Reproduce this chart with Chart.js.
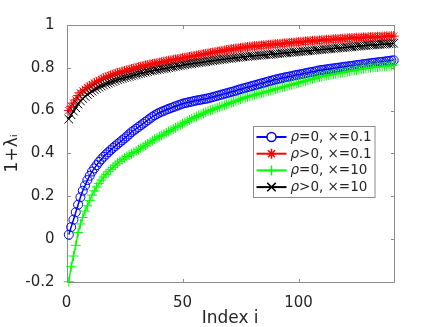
<!DOCTYPE html>
<html>
<head>
<meta charset="utf-8">
<script src="https://cdn.jsdelivr.net/npm/chart.js@4/dist/chart.umd.min.js"></script>
<style>
  html, body { margin: 0; padding: 0; background: #fff; }
  #wrap { width: 436px; height: 327px; }
</style>
</head>
<body>
<div id="wrap"><canvas id="chart" width="436" height="327"></canvas></div>
<script>
// values, index i = 1..141
const blue = [
  0.020, 0.055, 0.090, 0.125, 0.160, 0.195, 0.225, 0.250, 0.275, 0.295,
  0.315, 0.330, 0.345, 0.360, 0.372, 0.384, 0.395, 0.405, 0.415, 0.425,
  0.434, 0.443, 0.452, 0.461, 0.470, 0.479, 0.489, 0.499, 0.507, 0.515,
  0.523, 0.531, 0.539, 0.547, 0.555, 0.563, 0.571, 0.578, 0.584, 0.590,
  0.595, 0.599, 0.604, 0.608, 0.612, 0.616, 0.620, 0.624, 0.628, 0.632,
  0.635, 0.637, 0.640, 0.642, 0.645, 0.647, 0.649, 0.651, 0.653, 0.655,
  0.657, 0.660, 0.663, 0.666, 0.669, 0.672, 0.675, 0.678, 0.681, 0.684,
  0.687, 0.690, 0.693, 0.697, 0.700, 0.703, 0.706, 0.709, 0.712, 0.715,
  0.718, 0.721, 0.724, 0.727, 0.730, 0.733, 0.736, 0.739, 0.742, 0.745,
  0.747, 0.750, 0.752, 0.755, 0.757, 0.759, 0.761, 0.764, 0.766, 0.768,
  0.770, 0.772, 0.775, 0.777, 0.779, 0.781, 0.783, 0.786, 0.788, 0.790,
  0.791, 0.793, 0.794, 0.796, 0.797, 0.799, 0.800, 0.802, 0.803, 0.805,
  0.806, 0.808, 0.809, 0.811, 0.812, 0.814, 0.815, 0.817, 0.818, 0.820,
  0.821, 0.823, 0.824, 0.825, 0.827, 0.828, 0.829, 0.831, 0.832, 0.834, 0.835
];
const red = [
  0.600, 0.620, 0.635, 0.650, 0.670, 0.683, 0.692, 0.700, 0.708, 0.715,
  0.722, 0.728, 0.734, 0.740, 0.746, 0.751, 0.756, 0.760, 0.764, 0.768,
  0.772, 0.776, 0.779, 0.782, 0.785, 0.788, 0.791, 0.794, 0.797, 0.800,
  0.803, 0.806, 0.808, 0.811, 0.813, 0.816, 0.818, 0.820, 0.822, 0.824,
  0.826, 0.829, 0.831, 0.833, 0.835, 0.837, 0.839, 0.841, 0.843, 0.845,
  0.847, 0.849, 0.851, 0.853, 0.855, 0.857, 0.859, 0.861, 0.863, 0.865,
  0.867, 0.869, 0.871, 0.873, 0.875, 0.877, 0.879, 0.881, 0.883, 0.885,
  0.887, 0.888, 0.890, 0.891, 0.893, 0.894, 0.896, 0.897, 0.899, 0.900,
  0.901, 0.902, 0.903, 0.904, 0.905, 0.906, 0.907, 0.908, 0.909, 0.910,
  0.911, 0.912, 0.913, 0.914, 0.915, 0.916, 0.917, 0.918, 0.919, 0.920,
  0.921, 0.922, 0.923, 0.924, 0.925, 0.926, 0.927, 0.927, 0.928, 0.929,
  0.930, 0.931, 0.931, 0.932, 0.933, 0.934, 0.934, 0.935, 0.936, 0.937,
  0.937, 0.938, 0.939, 0.939, 0.940, 0.941, 0.941, 0.942, 0.942, 0.943,
  0.943, 0.944, 0.944, 0.945, 0.945, 0.946, 0.946, 0.947, 0.947, 0.948, 0.948
];
const green = [
  -0.200, -0.130, -0.080, -0.030, 0.030, 0.070, 0.100, 0.130, 0.155, 0.180,
  0.205, 0.225, 0.243, 0.260, 0.275, 0.289, 0.302, 0.314, 0.325, 0.335,
  0.345, 0.354, 0.363, 0.371, 0.378, 0.385, 0.392, 0.398, 0.404, 0.410,
  0.417, 0.424, 0.431, 0.438, 0.445, 0.452, 0.459, 0.466, 0.472, 0.478,
  0.484, 0.490, 0.496, 0.502, 0.508, 0.514, 0.520, 0.526, 0.532, 0.538,
  0.544, 0.550, 0.556, 0.562, 0.567, 0.572, 0.577, 0.582, 0.587, 0.592,
  0.597, 0.601, 0.605, 0.609, 0.613, 0.617, 0.621, 0.625, 0.629, 0.633,
  0.637, 0.641, 0.645, 0.649, 0.653, 0.657, 0.661, 0.664, 0.667, 0.670,
  0.673, 0.676, 0.679, 0.682, 0.685, 0.688, 0.691, 0.694, 0.697, 0.700,
  0.703, 0.706, 0.709, 0.712, 0.715, 0.718, 0.721, 0.724, 0.727, 0.730,
  0.733, 0.736, 0.739, 0.742, 0.745, 0.748, 0.751, 0.754, 0.757, 0.760,
  0.762, 0.764, 0.766, 0.768, 0.770, 0.772, 0.774, 0.776, 0.778, 0.780,
  0.782, 0.784, 0.786, 0.788, 0.790, 0.792, 0.794, 0.796, 0.798, 0.800,
  0.801, 0.802, 0.803, 0.804, 0.805, 0.806, 0.807, 0.808, 0.809, 0.811, 0.813
];
const black = [
  0.560, 0.580, 0.597, 0.613, 0.630, 0.645, 0.656, 0.666, 0.675, 0.683,
  0.690, 0.697, 0.703, 0.709, 0.714, 0.719, 0.724, 0.728, 0.732, 0.736,
  0.740, 0.744, 0.747, 0.750, 0.753, 0.756, 0.759, 0.762, 0.765, 0.768,
  0.771, 0.774, 0.776, 0.779, 0.781, 0.784, 0.786, 0.788, 0.790, 0.792,
  0.794, 0.796, 0.798, 0.800, 0.802, 0.804, 0.806, 0.808, 0.810, 0.812,
  0.814, 0.816, 0.818, 0.819, 0.821, 0.822, 0.824, 0.825, 0.827, 0.828,
  0.830, 0.831, 0.833, 0.834, 0.836, 0.837, 0.839, 0.840, 0.842, 0.843,
  0.844, 0.846, 0.847, 0.848, 0.849, 0.851, 0.852, 0.853, 0.854, 0.855,
  0.856, 0.857, 0.858, 0.859, 0.860, 0.861, 0.862, 0.863, 0.864, 0.865,
  0.866, 0.867, 0.868, 0.869, 0.870, 0.871, 0.872, 0.873, 0.874, 0.875,
  0.876, 0.877, 0.878, 0.879, 0.880, 0.881, 0.882, 0.883, 0.884, 0.885,
  0.886, 0.887, 0.888, 0.889, 0.890, 0.891, 0.892, 0.893, 0.894, 0.895,
  0.896, 0.897, 0.898, 0.899, 0.900, 0.901, 0.902, 0.903, 0.904, 0.905,
  0.906, 0.906, 0.907, 0.908, 0.909, 0.910, 0.910, 0.911, 0.912, 0.913, 0.914
];

const seriesLabels = [
  ['ρ', '=0, ×=0.1'],
  ['ρ', '>0, ×=0.1'],
  ['ρ', '=0, ×=10'],
  ['ρ', '>0, ×=10']
];
const xTicks = [0, 50, 100];
const yTicks = [-0.2, 0, 0.2, 0.4, 0.6, 0.8, 1];
const xRange = [0, 141];
const yRange = [-0.2, 1];

const FONT = 'DejaVu Sans';
const TEXT = '#262626';
const AXIS = '#8c8c8c';

function toPoints(values) {
  return values.map(function (v, i) { return { x: i + 1, y: v }; });
}

function series(label, values, color, style, radius, order) {
  return {
    label: label,
    data: toPoints(values),
    borderColor: color,
    backgroundColor: 'rgba(0,0,0,0)',
    borderWidth: 1.5,
    pointStyle: style,
    pointRadius: radius,
    pointBorderColor: color,
    pointBackgroundColor: 'rgba(0,0,0,0)',
    pointBorderWidth: 1,
    tension: 0,
    order: order,
    clip: { left: 6, right: 6, top: 6, bottom: 6 }
  };
}

// Matlab style box with inward ticks
const boxPlugin = {
  id: 'box',
  beforeDatasetsDraw: function (chart) {
    const ctx = chart.ctx;
    const a = chart.chartArea;
    const x = chart.scales.x, y = chart.scales.y;
    const L = Math.round(a.left) + 0.5, R = Math.round(a.right) + 0.5;
    const T = Math.round(a.top) + 0.5, B = Math.round(a.bottom) + 0.5;
    ctx.save();
    ctx.strokeStyle = AXIS;
    ctx.lineWidth = 1;
    ctx.beginPath();
    ctx.rect(L, T, R - L, B - T);
    xTicks.forEach(function (v) {
      const px = Math.round(x.getPixelForValue(v)) + 0.5;
      ctx.moveTo(px, B); ctx.lineTo(px, B - 3.5);
      ctx.moveTo(px, T); ctx.lineTo(px, T + 3.5);
    });
    yTicks.forEach(function (v) {
      const py = Math.round(y.getPixelForValue(v)) + 0.5;
      ctx.moveTo(L, py); ctx.lineTo(L + 3.5, py);
      ctx.moveTo(R, py); ctx.lineTo(R - 3.5, py);
    });
    ctx.stroke();
    ctx.restore();
  }
};

// legend box inside the axes
const legendPlugin = {
  id: 'boxLegend',
  afterDraw: function (chart) {
    const ctx = chart.ctx;
    const bx = 253.5, by = 126.5, bw = 121.5, bh = 71;
    const rowH = 16.7, row0 = by + 10.5;
    ctx.save();
    ctx.fillStyle = '#fff';
    ctx.fillRect(bx, by, bw, bh);
    ctx.strokeStyle = AXIS;
    ctx.lineWidth = 1;
    ctx.strokeRect(bx, by, bw, bh);
    chart.data.datasets.forEach(function (ds, i) {
      const yy = row0 + i * rowH;
      ctx.strokeStyle = ds.borderColor;
      ctx.lineWidth = 2;
      ctx.beginPath();
      ctx.moveTo(bx + 3, yy);
      ctx.lineTo(bx + 33, yy);
      ctx.stroke();
      ctx.lineWidth = 1.5;
      Chart.helpers.drawPoint(ctx, {
        pointStyle: ds.pointStyle,
        radius: ds.pointRadius,
        borderWidth: 1.5
      }, bx + 18, yy);
      ctx.fillStyle = TEXT;
      ctx.textBaseline = 'middle';
      ctx.textAlign = 'left';
      ctx.font = 'italic 13.5px "' + FONT + '"';
      const tx = bx + 37;
      ctx.fillText(seriesLabels[i][0], tx, yy + 0.5);
      const w = ctx.measureText(seriesLabels[i][0]).width;
      ctx.font = '13.5px "' + FONT + '"';
      ctx.fillText(seriesLabels[i][1], tx + w, yy + 0.5);
    });
    ctx.restore();
  }
};

new Chart(document.getElementById('chart'), {
  type: 'line',
  data: {
    datasets: [
      series(seriesLabels[0].join(''), blue, '#0000ff', 'circle', 4.5, 4),
      series(seriesLabels[1].join(''), red, '#ff0000', 'star', 5, 3),
      series(seriesLabels[2].join(''), green, '#00ff00', 'cross', 5, 2),
      series(seriesLabels[3].join(''), black, '#000000', 'crossRot', 6, 1)
    ]
  },
  options: {
    responsive: false,
    animation: false,
    layout: { padding: { left: 0, top: 25, right: 42.3, bottom: 0 } },
    scales: {
      x: {
        type: 'linear',
        position: 'bottom',
        min: xRange[0],
        max: xRange[1],
        afterBuildTicks: function (s) { s.ticks = xTicks.map(function (v) { return { value: v }; }); },
        afterFit: function (s) { s.height = 45.3; },
        grid: { display: false },
        border: { display: false },
        ticks: {
          color: TEXT,
          padding: 4,
          maxRotation: 0,
          font: { family: FONT, size: 15 },
          callback: function (v) { return String(v); }
        },
        title: {
          display: true,
          text: 'Index i',
          color: TEXT,
          font: { family: FONT, size: 17 },
          padding: { top: 0, bottom: -2 }
        }
      },
      y: {
        type: 'linear',
        position: 'left',
        min: yRange[0],
        max: yRange[1],
        afterBuildTicks: function (s) { s.ticks = yTicks.map(function (v) { return { value: v }; }); },
        afterFit: function (s) { s.width = 66.5; },
        grid: { display: false },
        border: { display: false },
        ticks: {
          color: TEXT,
          padding: 4,
          font: { family: FONT, size: 15 },
          callback: function (v) { return String(Math.round(v * 10) / 10); }
        },
        title: {
          display: true,
          text: '1+λᵢ',
          color: TEXT,
          font: { family: FONT, size: 17 },
          padding: { top: 2, bottom: 0 }
        }
      }
    },
    plugins: {
      legend: { display: false },
      tooltip: { enabled: false }
    }
  },
  plugins: [boxPlugin, legendPlugin]
});
</script>
</body>
</html>
